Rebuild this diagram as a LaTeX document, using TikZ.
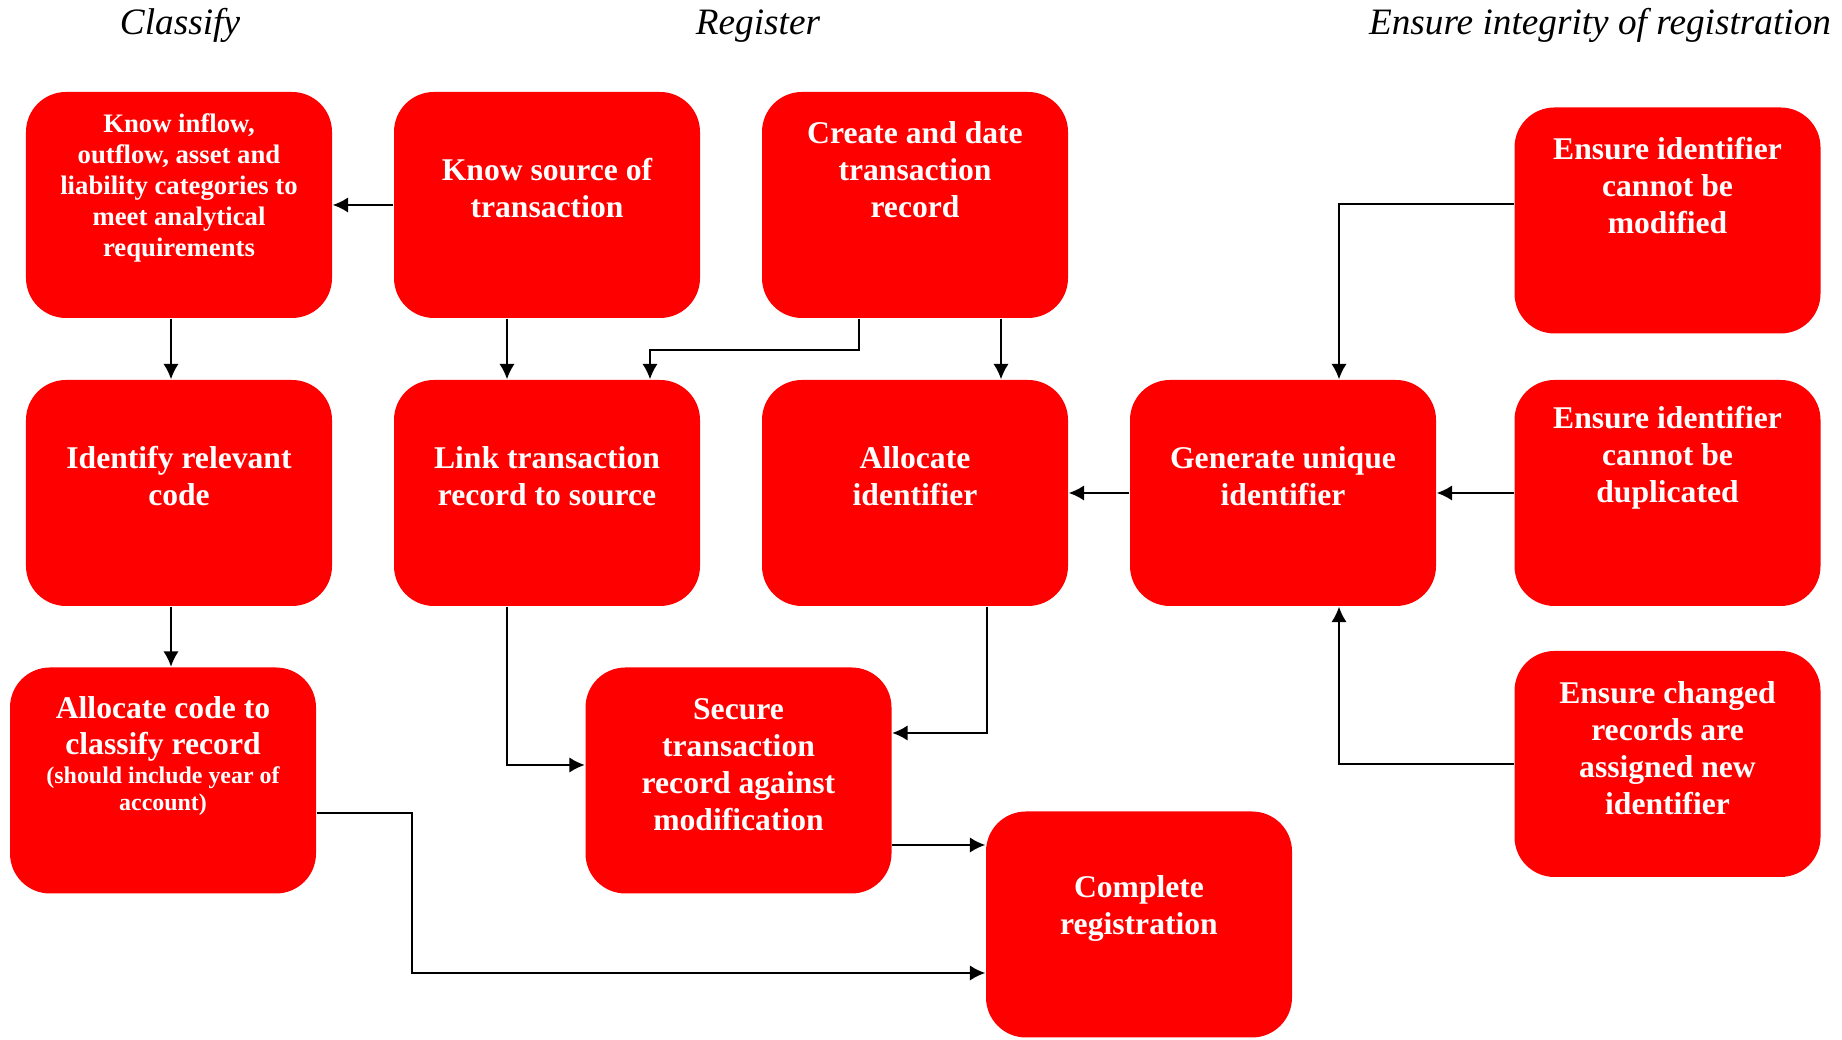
\documentclass[tikz,border=0pt]{standalone}
\usepackage{fontspec}
\setmainfont{Liberation Serif}
\usetikzlibrary{positioning,arrows.meta}

\tikzset{
  box/.style={fill=red, rounded corners=0.4cm, minimum width=3.06cm, minimum height=2.26cm, inner sep=0pt},
  txt/.style={text=white, font=\bfseries\fontsize{9}{10.5}\selectfont, align=center, inner sep=0pt},
  midtxt/.style={text=white, font=\bfseries\fontsize{7.6}{8.8}\selectfont, align=center, inner sep=0pt},
  smalltxt/.style={text=white, font=\bfseries\fontsize{6.8}{7.7}\selectfont, align=center, inner sep=0pt},
  head/.style={font=\itshape\fontsize{10.6}{12}\selectfont, anchor=base},
  flow/.style={-{Latex[length=4.4pt,width=4.4pt]}, line width=0.6pt},
}

\begin{document}
\begin{tikzpicture}[scale=1]
  \useasboundingbox (0,0) rectangle (18.42,10.40);

  % titoli
  \node[head] (h-class) at (1.80,10.05) {Classify};
  \node[head] (h-reg) at (7.58,10.05) {Register};
  \node[head] (h-integ) at (16.00,10.05) {Ensure integrity of registration};

  % riquadri
  \node[box] (inflow) at (1.79,8.35) {};
  \node[box] (source) at (5.47,8.35) {};
  \node[box] (create) at (9.15,8.35) {};
  \node[box] (nomod) at (16.675,8.195) {};
  \node[box] (ident) at (1.79,5.47) {};
  \node[box] (link) at (5.47,5.47) {};
  \node[box] (alloc) at (9.15,5.47) {};
  \node[box] (gen) at (12.83,5.47) {};
  \node[box] (nodup) at (16.675,5.47) {};
  \node[box] (code) at (1.63,2.595) {};
  \node[box] (secure) at (7.385,2.595) {};
  \node[box] (changed) at (16.675,2.76) {};
  \node[box] (complete) at (11.39,1.155) {};

  % testi
  \node[midtxt] (inflow-t) at ([yshift=0.17cm]inflow.center) {Know inflow,\\outflow, asset and\\liability categories to\\meet analytical\\requirements};
  \node[txt] (source-t) at ([yshift=0.17cm]source.center) {Know source of\\transaction};
  \node[txt] (create-t) at ([yshift=0.35cm]create.center) {Create and date\\transaction\\record};
  \node[txt] (nomod-t) at ([yshift=0.35cm]nomod.center) {Ensure identifier\\cannot be\\modified};
  \node[txt] (ident-t) at ([yshift=0.17cm]ident.center) {Identify relevant\\code};
  \node[txt] (link-t) at ([yshift=0.17cm]link.center) {Link transaction\\record to source};
  \node[txt] (alloc-t) at ([yshift=0.17cm]alloc.center) {Allocate\\identifier};
  \node[txt] (gen-t) at ([yshift=0.17cm]gen.center) {Generate unique\\identifier};
  \node[txt] (nodup-t) at ([yshift=0.35cm]nodup.center) {Ensure identifier\\cannot be\\duplicated};
  \node[txt] (code-t) at (1.63,3.11) {Allocate code to\\classify record};
  \node[smalltxt] (code-s) at (1.63,2.49) {(should include year of\\account)};
  \node[txt] (secure-t) at ([yshift=0.16cm]secure.center) {Secure\\transaction\\record against\\modification};
  \node[txt] (changed-t) at ([yshift=0.16cm]changed.center) {Ensure changed\\records are\\assigned new\\identifier};
  \node[txt] (complete-t) at ([yshift=0.16cm]complete.center) {Complete\\registration};

  % frecce
  \draw[flow] (source.west) -- (inflow.east);
  \draw[flow] ([xshift=-0.08cm]inflow.south) -- ([xshift=-0.08cm]ident.north);
  \draw[flow] ([xshift=-0.08cm]ident.south) -- ([xshift=-0.08cm]ident.south |- code.north);
  \draw[flow] ([xshift=-0.40cm]source.south) -- ([xshift=-0.40cm]link.north);
  \draw[flow] ([xshift=-0.56cm]create.south) -- ++(0,-0.31) -| ([xshift=1.03cm]link.north);
  \draw[flow] ([xshift=0.86cm]create.south) -- ([xshift=0.86cm]alloc.north);
  \draw[flow] ([yshift=0.165cm]nomod.west) -| ([xshift=0.56cm]gen.north);
  \draw[flow] (gen.west) -- (alloc.east);
  \draw[flow] (nodup.west) -- (gen.east);
  \draw[flow] (changed.west) -| ([xshift=0.56cm]gen.south);
  \draw[flow] ([xshift=-0.40cm]link.south) |- ([yshift=0.155cm]secure.west);
  \draw[flow] ([xshift=0.72cm]alloc.south) |- ([yshift=0.475cm]secure.east);
  \draw[flow] ([yshift=-0.645cm]secure.east) -- ([yshift=-0.645cm]secure.east -| complete.west);
  \draw[flow] ([yshift=-0.325cm]code.east) -- ++(0.95,0) |- ([yshift=-0.485cm]complete.west);
\end{tikzpicture}
\end{document}
